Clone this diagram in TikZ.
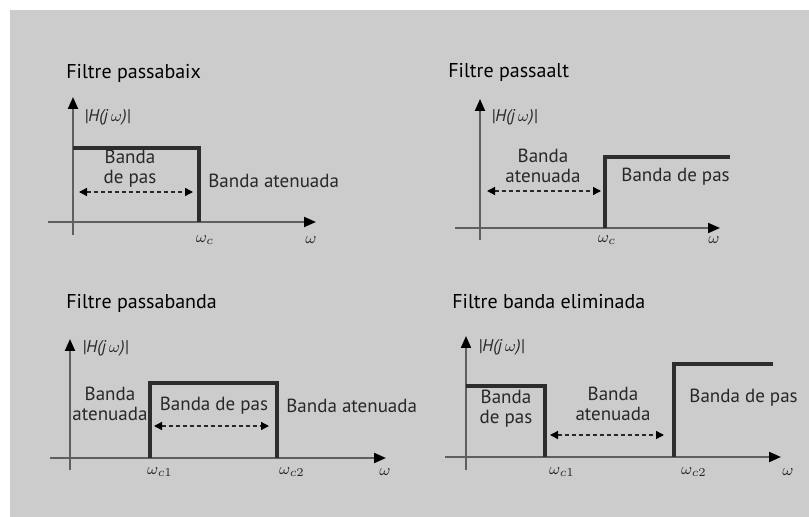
\documentclass[tikz,border=0pt]{standalone}
\usepackage{fontspec}
\setmainfont{PT Sans}
\usetikzlibrary{arrows.meta}
\definecolor{panelgray}{RGB}{204,204,204}
\definecolor{axisgray}{RGB}{95,95,95}
\definecolor{curvegray}{RGB}{45,45,45}
\definecolor{textgray}{RGB}{40,40,40}

\begin{document}
\begin{tikzpicture}[x=0.5pt, y=-0.5pt,
  title/.style={anchor=west, inner sep=0pt, font=\fontsize{10}{12}\selectfont, text=black},
  lbl/.style={inner sep=0pt, align=center, font=\fontsize{9.5}{10}\selectfont, text=textgray},
  mag/.style={anchor=west, inner sep=0pt, font=\fontsize{8.5}{9}\selectfont\itshape, text=textgray},
  freq/.style={inner sep=0pt, font=\fontsize{8.5}{9}\selectfont, text=textgray},
  axis/.style={-{Triangle[length=6pt,width=5pt,color=black]}, axisgray, line width=1pt},
  curve/.style={curvegray, line width=1.6pt},
  band/.style={{Triangle[length=4pt,width=4pt,color=black]}-{Triangle[length=4pt,width=4pt,color=black]}, textgray, line width=0.7pt, dash pattern=on 2pt off 1.5pt}
]
\fill[white] (0,0) rectangle (809,517);
\fill[panelgray] (10,10) rectangle (809,517);

% passabaix
\node[title] (lpTitle) at (66,73) {Filtre passabaix};
\coordinate (lpY0) at (73,235);
\coordinate (lpY1) at (73,97);
\coordinate (lpX0) at (48,222);
\coordinate (lpX1) at (316,222);
\draw[axis] (lpY0) -- (lpY1);
\draw[axis] (lpX0) -- (lpX1);
\node[mag] (lpMag) at (84,117) {|H(j\,$\omega$)|};
\coordinate (lpA) at (73,148);
\coordinate (lpB) at (199,148);
\coordinate (lpC) at (199,222);
\draw[curve] (lpA) -- (lpB) -- (lpC);
\node[lbl] (lpPass) at (130,169) {Banda\\de pas};
\node[lbl, anchor=west] (lpStop) at (208,181) {Banda atenuada};
\coordinate (lpL) at (79,192);
\coordinate (lpR) at (193,192);
\draw[band] (lpL) -- (lpR);
\node[freq] (lpWc) at (205,240) {$\omega_c$};
\node[freq] (lpW) at (311,240) {$\omega$};

% passaalt
\node[title] (hpTitle) at (448,72) {Filtre passaalt};
\coordinate (hpY0) at (480,240);
\coordinate (hpY1) at (480,99);
\coordinate (hpX0) at (455,228);
\coordinate (hpX1) at (720,228);
\draw[axis] (hpY0) -- (hpY1);
\draw[axis] (hpX0) -- (hpX1);
\node[mag] (hpMag) at (491,117) {|H(j\,$\omega$)|};
\coordinate (hpA) at (605,228);
\coordinate (hpB) at (605,157);
\coordinate (hpC) at (730,157);
\draw[curve] (hpA) -- (hpB) -- (hpC);
\node[lbl] (hpStop) at (543,166) {Banda\\atenuada};
\node[lbl, anchor=west] (hpPass) at (621,177) {Banda de pas};
\coordinate (hpL) at (487,191);
\coordinate (hpR) at (601,191);
\draw[band] (hpL) -- (hpR);
\node[freq] (hpWc) at (607,240) {$\omega_c$};
\node[freq] (hpW) at (714,240) {$\omega$};

% passabanda
\node[title] (bpTitle) at (66,303) {Filtre passabanda};
\coordinate (bpY0) at (70,470);
\coordinate (bpY1) at (70,339);
\coordinate (bpX0) at (50,458);
\coordinate (bpX1) at (386,458);
\draw[axis] (bpY0) -- (bpY1);
\draw[axis] (bpX0) -- (bpX1);
\node[mag] (bpMag) at (82,348) {|H(j\,$\omega$)|};
\coordinate (bpA) at (150,458);
\coordinate (bpB) at (150,383);
\coordinate (bpC) at (277,383);
\coordinate (bpD) at (277,458);
\draw[curve] (bpA) -- (bpB) -- (bpC) -- (bpD);
\node[lbl] (bpStopL) at (110,404) {Banda\\atenuada};
\node[lbl] (bpPass) at (214,406) {Banda de pas};
\node[lbl, anchor=west] (bpStopR) at (286,406) {Banda atenuada};
\coordinate (bpL) at (154,426);
\coordinate (bpR) at (269,426);
\draw[band] (bpL) -- (bpR);
\node[freq] (bpW1) at (160,472) {$\omega_{c1}$};
\node[freq] (bpW2) at (292,472) {$\omega_{c2}$};
\node[freq] (bpW) at (385,472) {$\omega$};

% banda eliminada
\node[title] (bsTitle) at (452,302) {Filtre banda eliminada};
\coordinate (bsY0) at (466,470);
\coordinate (bsY1) at (466,336);
\coordinate (bsX0) at (445,457);
\coordinate (bsX1) at (781,457);
\draw[axis] (bsY0) -- (bsY1);
\draw[axis] (bsX0) -- (bsX1);
\node[mag] (bsMag) at (478,347) {|H(j\,$\omega$)|};
\coordinate (bsA) at (466,386);
\coordinate (bsB) at (545,386);
\coordinate (bsC) at (545,457);
\draw[curve] (bsA) -- (bsB) -- (bsC);
\coordinate (bsD) at (674,457);
\coordinate (bsE) at (674,364);
\coordinate (bsF) at (773,364);
\draw[curve] (bsD) -- (bsE) -- (bsF);
\node[lbl] (bsPass) at (506,409) {Banda\\de pas};
\node[lbl] (bsStop) at (613,404) {Banda\\atenuada};
\node[lbl, anchor=west] (bsPassR) at (689,398) {Banda de pas};
\coordinate (bsL) at (550,435);
\coordinate (bsR) at (664,435);
\draw[band] (bsL) -- (bsR);
\node[freq] (bsW1) at (562,472) {$\omega_{c1}$};
\node[freq] (bsW2) at (694,472) {$\omega_{c2}$};
\node[freq] (bsW) at (788,472) {$\omega$};
\end{tikzpicture}
\end{document}
